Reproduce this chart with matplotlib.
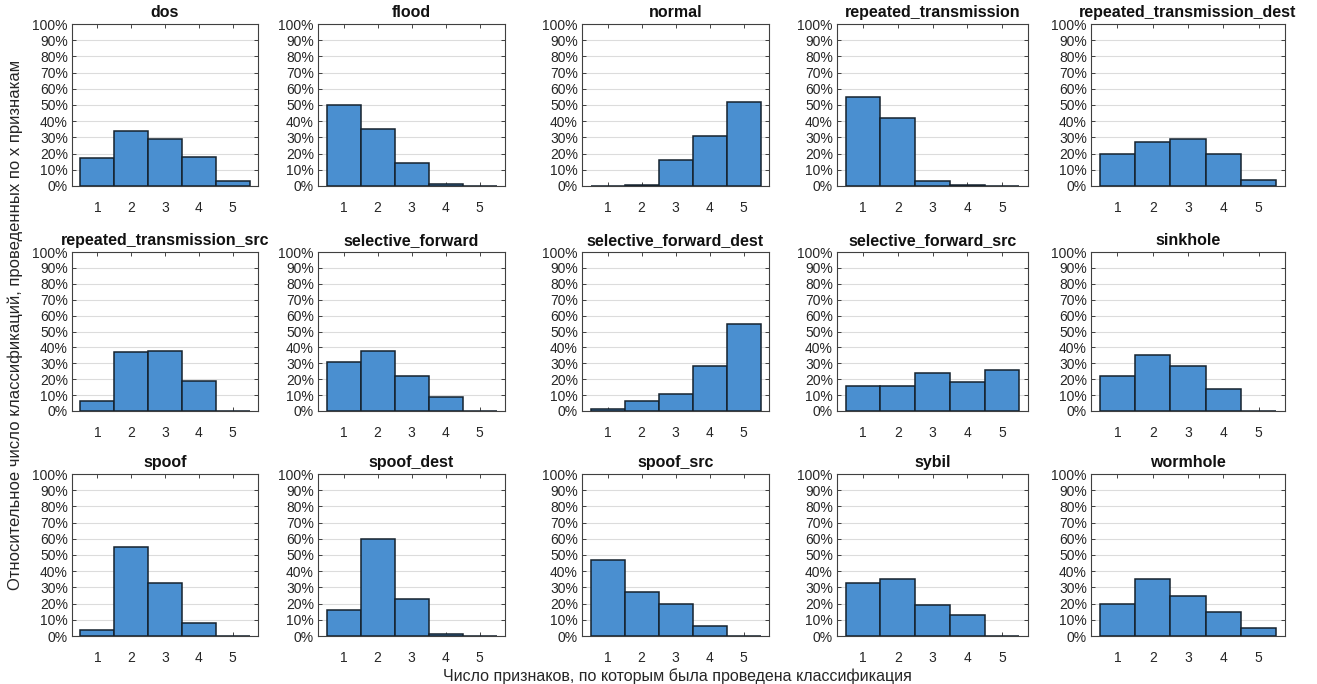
import matplotlib.pyplot as plt
from matplotlib.ticker import PercentFormatter

plt.rcParams['font.family'] = ['Liberation Sans', 'DejaVu Sans']

# Share of classifications (percent) by number of features used
features = [1, 2, 3, 4, 5]
titles = [
    "dos", "flood", "normal", "repeated_transmission", "repeated_transmission_dest",
    "repeated_transmission_src", "selective_forward", "selective_forward_dest",
    "selective_forward_src", "sinkhole",
    "spoof", "spoof_dest", "spoof_src", "sybil", "wormhole",
]
dos = [17, 34, 29, 18, 3]
flood = [50, 35, 14, 1, 0.3]
normal = [0.3, 0.6, 16, 31, 52]
repeated_transmission = [55, 42, 3, 0.5, 0.2]
repeated_transmission_dest = [20, 27, 29, 20, 4]
repeated_transmission_src = [6, 37, 38, 19, 0.3]
selective_forward = [31, 38, 22, 9, 0.3]
selective_forward_dest = [1, 6, 11, 28, 55]
selective_forward_src = [16, 16, 24, 18, 26]
sinkhole = [22, 35, 28, 14, 0.3]
spoof = [4, 55, 33, 8, 0.3]
spoof_dest = [16, 60, 23, 1, 0.3]
spoof_src = [47, 27, 20, 6, 0.3]
sybil = [33, 35, 19, 13, 0.3]
wormhole = [20, 35, 25, 15, 5]

series = [
    dos, flood, normal, repeated_transmission, repeated_transmission_dest,
    repeated_transmission_src, selective_forward, selective_forward_dest,
    selective_forward_src, sinkhole,
    spoof, spoof_dest, spoof_src, sybil, wormhole,
]

W, H = 1317, 684
fig = plt.figure(figsize=(W / 100, H / 100), dpi=100)

# axes boxes in pixels: (left, width) per column, (top, bottom) per row
cols = [(72, 186), (318, 187), (582, 187), (837, 191), (1091, 194)]
rows = [(24, 186), (252, 411), (474, 636)]

bar_color = "#4a8fd0"
edge_color = "#15222e"
text_color = "#262626"

for i, (name, vals) in enumerate(zip(titles, series)):
    r, c = divmod(i, 5)
    left, width = cols[c]
    top, bottom = rows[r]
    ax = fig.add_axes([left / W, 1 - bottom / H, width / W, (bottom - top) / H])
    ax.bar(features, vals, width=1.0, color=bar_color, edgecolor=edge_color,
           linewidth=1.1, zorder=3)
    ax.set_xlim(0.25, 5.75)
    ax.set_ylim(0, 100)
    ax.set_yticks(range(0, 101, 10))
    ax.set_xticks(features)
    ax.yaxis.set_major_formatter(PercentFormatter(decimals=0))
    ax.grid(axis='y', color="#dcdcdc", linewidth=0.8, zorder=0)
    ax.tick_params(direction='in', length=3, width=0.6, colors=text_color,
                   labelsize=10, top=True, right=True, pad=3)
    ax.tick_params(axis='x', pad=11)
    for s in ax.spines.values():
        s.set_color("#404040")
        s.set_linewidth(0.8)
    ax.set_title(name, fontsize=11.5, fontweight='bold', color="#111111", pad=5)

fig.text(15 / W, 1 - 325 / H,
         "Относительное число классификаций, проведенных по x признакам",
         rotation=90, ha='center', va='center', fontsize=12, color=text_color)
fig.text(677 / W, 1 - 676 / H,
         "Число признаков, по которым была проведена классификация",
         ha='center', va='center', fontsize=11.5, color=text_color)

plt.savefig("out.png", dpi=100)
